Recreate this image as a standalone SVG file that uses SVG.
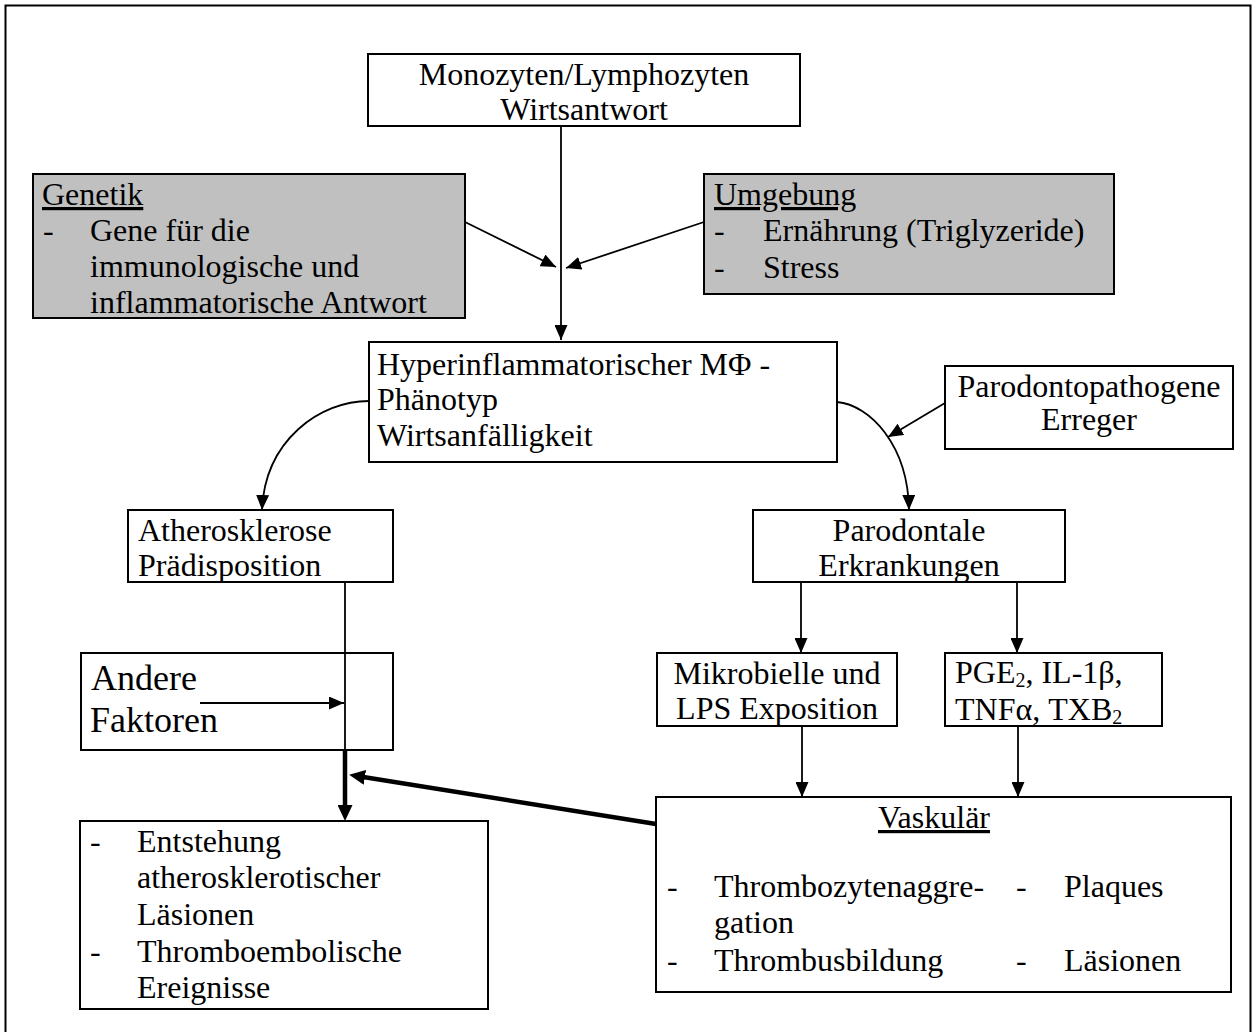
<svg xmlns="http://www.w3.org/2000/svg" width="1255" height="1032" viewBox="0 0 1255 1032">
<style>
text{font-family:"Liberation Serif","Times New Roman",serif;font-size:32px;fill:#000}
.c{text-anchor:middle}
.u{text-decoration:underline}
.big{font-size:36px}
.box{fill:#fff;stroke:#000;stroke-width:2}
.open{fill:none;stroke:#000;stroke-width:2}
.grey{fill:#c0c0c0;stroke:#000;stroke-width:2}
.ln{fill:none;stroke:#000;stroke-width:1.8}
.thick{fill:none;stroke:#000;stroke-width:4.5}
.sub{font-size:20px}
</style>
<defs>
<marker id="ah" markerUnits="userSpaceOnUse" markerWidth="15" markerHeight="13" refX="15" refY="6.5" orient="auto"><path d="M0,0 L15,6.5 L0,13 z" fill="#000"/></marker>
<marker id="aht" markerUnits="userSpaceOnUse" markerWidth="16" markerHeight="15" refX="8" refY="7.5" orient="auto"><path d="M0,0 L16,7.5 L0,15 z" fill="#000"/></marker>
</defs>
<rect x="5.5" y="5.5" width="1245" height="1040" fill="#fff" stroke="#000" stroke-width="2"/>

<g id="connectors">
<line class="ln" x1="561" y1="126" x2="561" y2="340" marker-end="url(#ah)"/>
<line class="ln" x1="465" y1="222" x2="556" y2="267" marker-end="url(#ah)"/>
<line class="ln" x1="704" y1="222" x2="566" y2="268" marker-end="url(#ah)"/>
<path class="ln" d="M369,401 C320,401 265,440 262,510" marker-end="url(#ah)"/>
<path class="ln" d="M837,402 C870,405 908,445 909,510" marker-end="url(#ah)"/>
<line class="ln" x1="945" y1="403" x2="888" y2="437" marker-end="url(#ah)"/>
<line class="ln" x1="801" y1="582" x2="801" y2="653" marker-end="url(#ah)"/>
<line class="ln" x1="1017" y1="582" x2="1017" y2="653" marker-end="url(#ah)"/>
<line class="ln" x1="802" y1="726" x2="802" y2="797" marker-end="url(#ah)"/>
<line class="ln" x1="1018" y1="726" x2="1018" y2="797" marker-end="url(#ah)"/>
<line class="ln" x1="345" y1="582" x2="345" y2="750"/>
<line class="ln" x1="200" y1="703" x2="344" y2="703" marker-end="url(#ah)"/>
<line class="thick" x1="345" y1="749" x2="345" y2="813" marker-end="url(#aht)"/>
<line class="thick" x1="656" y1="824" x2="357" y2="776" marker-end="url(#aht)"/>
</g>

<g id="n-top"><rect class="box" x="368" y="54" width="432" height="72"/>
<text class="c" x="584" y="85">Monozyten/Lymphozyten</text>
<text class="c" x="584" y="120">Wirtsantwort</text></g>

<g id="n-genetik"><rect class="grey" x="33" y="174" width="432" height="144"/>
<text class="u" x="42" y="205">Genetik</text>
<text x="43" y="241">-</text><text x="90" y="241">Gene für die</text>
<text x="90" y="277">immunologische und</text>
<text x="90" y="313">inflammatorische Antwort</text></g>

<g id="n-umgebung"><rect class="grey" x="704" y="174" width="410" height="120"/>
<text class="u" x="714" y="205">Umgebung</text>
<text x="714" y="241">-</text><text x="763" y="241">Ernährung (Triglyzeride)</text>
<text x="714" y="278">-</text><text x="763" y="278">Stress</text></g>

<g id="n-hyper"><rect class="box" x="369" y="342" width="468" height="120"/>
<text x="377" y="375">Hyperinflammatorischer MΦ -</text>
<text x="377" y="410">Phänotyp</text>
<text x="377" y="446">Wirtsanfälligkeit</text></g>

<g id="n-erreger"><rect class="box" x="945" y="366" width="288" height="83"/>
<text class="c" x="1089" y="397">Parodontopathogene</text>
<text class="c" x="1089" y="430">Erreger</text></g>

<g id="n-athero"><rect class="box" x="128" y="510" width="265" height="72"/>
<text x="138" y="541">Atherosklerose</text>
<text x="138" y="576">Prädisposition</text></g>

<g id="n-parodontal"><rect class="box" x="753" y="510" width="312" height="72"/>
<text class="c" x="909" y="541">Parodontale</text>
<text class="c" x="909" y="576">Erkrankungen</text></g>

<g id="n-andere"><rect class="open" x="81" y="653" width="312" height="97"/>
<text class="big" x="91" y="690">Andere</text>
<text class="big" x="90" y="732">Faktoren</text></g>

<g id="n-mikro"><rect class="box" x="657" y="653" width="240" height="73"/>
<text class="c" x="777" y="684">Mikrobielle und</text>
<text class="c" x="777" y="719">LPS Exposition</text></g>

<g id="n-pge"><rect class="box" x="945" y="653" width="217" height="73"/>
<text x="955" y="683">PGE<tspan class="sub" dy="4">2</tspan><tspan dy="-4">, IL-1β,</tspan></text>
<text x="955" y="720">TNFα, TXB<tspan class="sub" dy="4">2</tspan></text></g>

<g id="n-entstehung"><rect class="box" x="80" y="821" width="408" height="188"/>
<text x="90" y="852">-</text><text x="137" y="852">Entstehung</text>
<text x="137" y="888">atherosklerotischer</text>
<text x="137" y="925">Läsionen</text>
<text x="90" y="962">-</text><text x="137" y="962">Thromboembolische</text>
<text x="137" y="998">Ereignisse</text></g>

<g id="n-vaskular"><rect class="box" x="656" y="797" width="575" height="195"/>
<text class="c u" x="934" y="828">Vaskulär</text>
<text x="667" y="897">-</text><text x="714" y="897">Thrombozytenaggre-</text>
<text x="1016" y="897">-</text><text x="1064" y="897">Plaques</text>
<text x="714" y="933">gation</text>
<text x="667" y="971">-</text><text x="714" y="971">Thrombusbildung</text>
<text x="1016" y="971">-</text><text x="1064" y="971">Läsionen</text></g>
</svg>
